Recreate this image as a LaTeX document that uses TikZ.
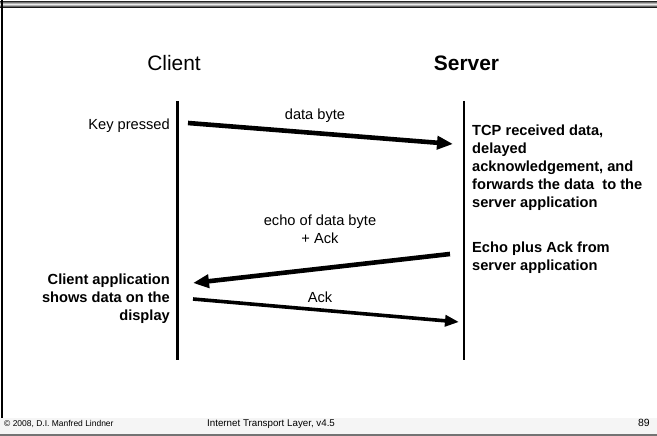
\documentclass[tikz,border=0pt]{standalone}
\usepackage{fontspec}
\setmainfont{Liberation Sans}
\usetikzlibrary{arrows.meta, positioning}

\begin{document}
\begin{tikzpicture}[
    x=1bp, y=-1bp,
    % Styles
    header/.style={inner sep=0pt, font=\fontsize{21}{25}\selectfont},
    note/.style={inner sep=0pt, font=\fontsize{14.7}{18}\selectfont},
    boldnote/.style={note, font=\fontsize{14.7}{18}\selectfont\bfseries},
    footer/.style={inner sep=0pt, font=\fontsize{8.5}{10}\selectfont},
    lifeline/.style={line width=2.8bp},
    msg/.style={line width=4.6bp, -{Triangle[length=16bp, width=13bp]}},
    thinmsg/.style={line width=3.6bp, -{Triangle[length=14bp, width=11bp]}}
]
    % Page frame
    \fill[white] (0,0) rectangle (657,436);
    \useasboundingbox (0,0) rectangle (657,436);
    \foreach \row/\shadeval in {1/85, 2/55, 3/30, 4/8, 5/30, 6/60, 7/90}
        \fill[black!\shadeval] (0,\row) rectangle (657,\row+1);
    \fill[black!4] (0,418) rectangle (657,434);
    \draw[black!55, line width=1.5bp] (0,435) -- (657,435);
    \draw[line width=2bp] (2,0) -- (2,418);

    % Headers
    \node[header, anchor=base] (client) at (174,71) {Client};
    \node[header, anchor=base, font=\fontsize{21}{25}\selectfont\bfseries] (server) at (466.5,71) {Server};

    % Lifelines
    \coordinate (clientTop) at (177.5,101);
    \coordinate (clientBot) at (177.5,360);
    \coordinate (serverTop) at (464,101);
    \coordinate (serverBot) at (464,360);
    \draw[lifeline] (clientTop) -- (clientBot);
    \draw[lifeline] (serverTop) -- (serverBot);

    % Message end points
    \coordinate (dataOut) at (188,123);
    \coordinate (dataIn) at (453,144);
    \coordinate (echoOut) at (450,254);
    \coordinate (echoIn) at (193,283);
    \coordinate (ackOut) at (193,299);
    \coordinate (ackIn) at (459,322);

    % Messages
    \draw[msg] (dataOut) -- (dataIn);
    \draw[msg] (echoOut) -- (echoIn);
    \draw[thinmsg] (ackOut) -- (ackIn);

    % Message labels
    \node[note, anchor=base] (dataLabel) at (315,120) {data byte};
    \node[note, anchor=north, align=center] (echoLabel) at (320,214.5) {echo of data byte\\+ Ack};
    \node[note, anchor=base] (ackLabel) at (320,303) {Ack};

    % Client side notes
    \node[note, anchor=base east] (keyNote) at (170,130) {Key pressed};
    \node[boldnote, anchor=north east, align=right] (displayNote) at (170,273.5) {Client application\\shows data on the\\display};

    % Server side notes
    \node[boldnote, anchor=north west, align=left] (tcpNote) at (472,125) {TCP received data,\\delayed\\acknowledgement, and\\forwards the data\ \ to the\\server application};
    \node[boldnote, anchor=north west, align=left] (echoNote) at (472,241.5) {Echo plus Ack from\\server application};

    % Footer
    \node[footer, anchor=base west] (copyright) at (4,426) {© 2008, D.I. Manfred Lindner};
    \node[footer, anchor=base west, font=\fontsize{9.8}{11}\selectfont] (course) at (207,426) {Internet Transport Layer, v4.5};
    \node[footer, anchor=base east, font=\fontsize{10.5}{12}\selectfont] (pageNo) at (650,426) {89};
\end{tikzpicture}
\end{document}
